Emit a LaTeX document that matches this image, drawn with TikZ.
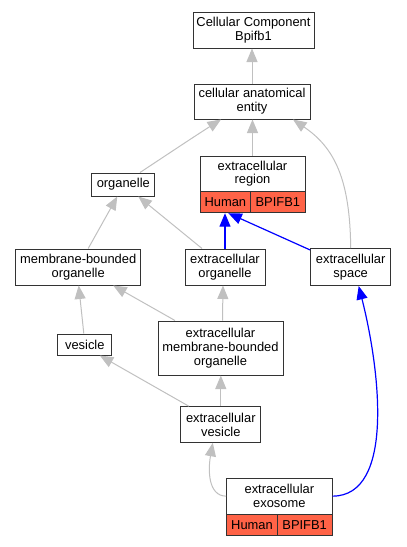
\documentclass[tikz,border=0pt]{standalone}
\usepackage{fontspec}
\setmainfont{Liberation Sans}
\usetikzlibrary{arrows.meta,calc}
\definecolor{edgegray}{RGB}{192,192,192}
\definecolor{cellred}{RGB}{255,99,71}
\begin{document}
\begin{tikzpicture}[x=1pt,y=-1pt,
  box/.style={draw=black!80,line width=1pt,fill=white,rectangle,inner sep=0pt,align=center,font=\fontsize{12.9}{13.8}\selectfont},
  cell/.style={box,fill=cellred},
  gedge/.style={draw=edgegray,line width=1pt,-{Triangle[length=13.5pt,width=11pt]}},
  bedge/.style={draw=blue,line width=1.2pt,-{Triangle[length=13.5pt,width=11pt]}}]
\useasboundingbox (0,0) rectangle (407,547);
% nodes
\node[box,minimum width=121pt,minimum height=36pt] (ccb) at (253.5,30) {Cellular Component\\Bpifb1};
\node[box,minimum width=116pt,minimum height=35pt] (cae) at (252,101.5) {cellular anatomical\\entity};
\node[box,minimum width=105pt,minimum height=35.5pt] (er) at (252.5,173.75) {extracellular\\region};
\node[cell,minimum width=50.7pt,minimum height=21.2pt] (erh) at (225.35,202.1) {Human};
\node[cell,minimum width=54.3pt,minimum height=21.2pt] (erg) at (277.85,202.1) {BPIFB1};
\node[box,minimum width=62.7pt,minimum height=23pt] (org) at (123.3,184.5) {organelle};
\node[box,minimum width=125pt,minimum height=36pt] (mbo) at (78.2,267) {membrane-bounded\\organelle};
\node[box,minimum width=80pt,minimum height=36pt] (eo) at (225,267) {extracellular\\organelle};
\node[box,minimum width=80pt,minimum height=37pt] (es) at (350.7,267) {extracellular\\space};
\node[box,minimum width=125pt,minimum height=54pt] (embo) at (220.5,348) {extracellular\\membrane-bounded\\organelle};
\node[box,minimum width=53.7pt,minimum height=21pt] (ves) at (84.8,344.5) {vesicle};
\node[box,minimum width=79.7pt,minimum height=35.6pt] (ev) at (220.8,424.5) {extracellular\\vesicle};
\node[box,minimum width=105.3pt,minimum height=36.3pt] (exo) at (279.35,496.15) {extracellular\\exosome};
\node[cell,minimum width=50.6pt,minimum height=21.4pt] (exoh) at (252,525) {Human};
\node[cell,minimum width=54.7pt,minimum height=21.4pt] (exog) at (304.65,525) {BPIFB1};
% gray edges
\draw[gedge] (cae.north) -- (cae.north |- ccb.south);
\draw[gedge] ($(org.north)+(16.7,0)$) .. controls (165,156) and (195,136) .. ($(cae.south)+(-31,0)$);
\draw[gedge] (er.north) -- (er.north |- cae.south);
\draw[gedge] (es.north) .. controls (350,180) and (335,148) .. ($(cae.south)+(41,0)$);
\draw[gedge] ($(mbo.north)+(10,0)$) -- ($(org.south)+(-6,0)$);
\draw[gedge] ($(eo.north)+(-23,0)$) -- ($(org.south)+(15,0)$);
\draw[gedge] ($(ves.north)+(-1,0)$) -- ($(mbo.south)+(0.5,0)$);
\draw[gedge] ($(embo.north)+(-45.5,0)$) -- ($(mbo.south)+(35,0)$);
\draw[gedge] ($(embo.north)+(2,0)$) -- ($(eo.south)+(-2,0)$);
\draw[gedge] ($(ev.north)+(-32,0)$) -- ($(ves.south)+(15,0)$);
\draw[gedge] (ev.north) -- (ev.north |- embo.south);
\draw[gedge] (exo.west) .. controls (208,496) and (208,470) .. ($(ev.south)+(-8,0)$);
% blue edges
\draw[bedge] (eo.north) -- (eo.north |- erh.south);
\draw[bedge] ($(es.north west)+(0,2)$) -- ($(erh.south)+(3,0)$);
\draw[bedge] (exo.east) .. controls (395,496) and (380,370) .. ($(es.south)+(8,0)$);
\end{tikzpicture}
\end{document}
